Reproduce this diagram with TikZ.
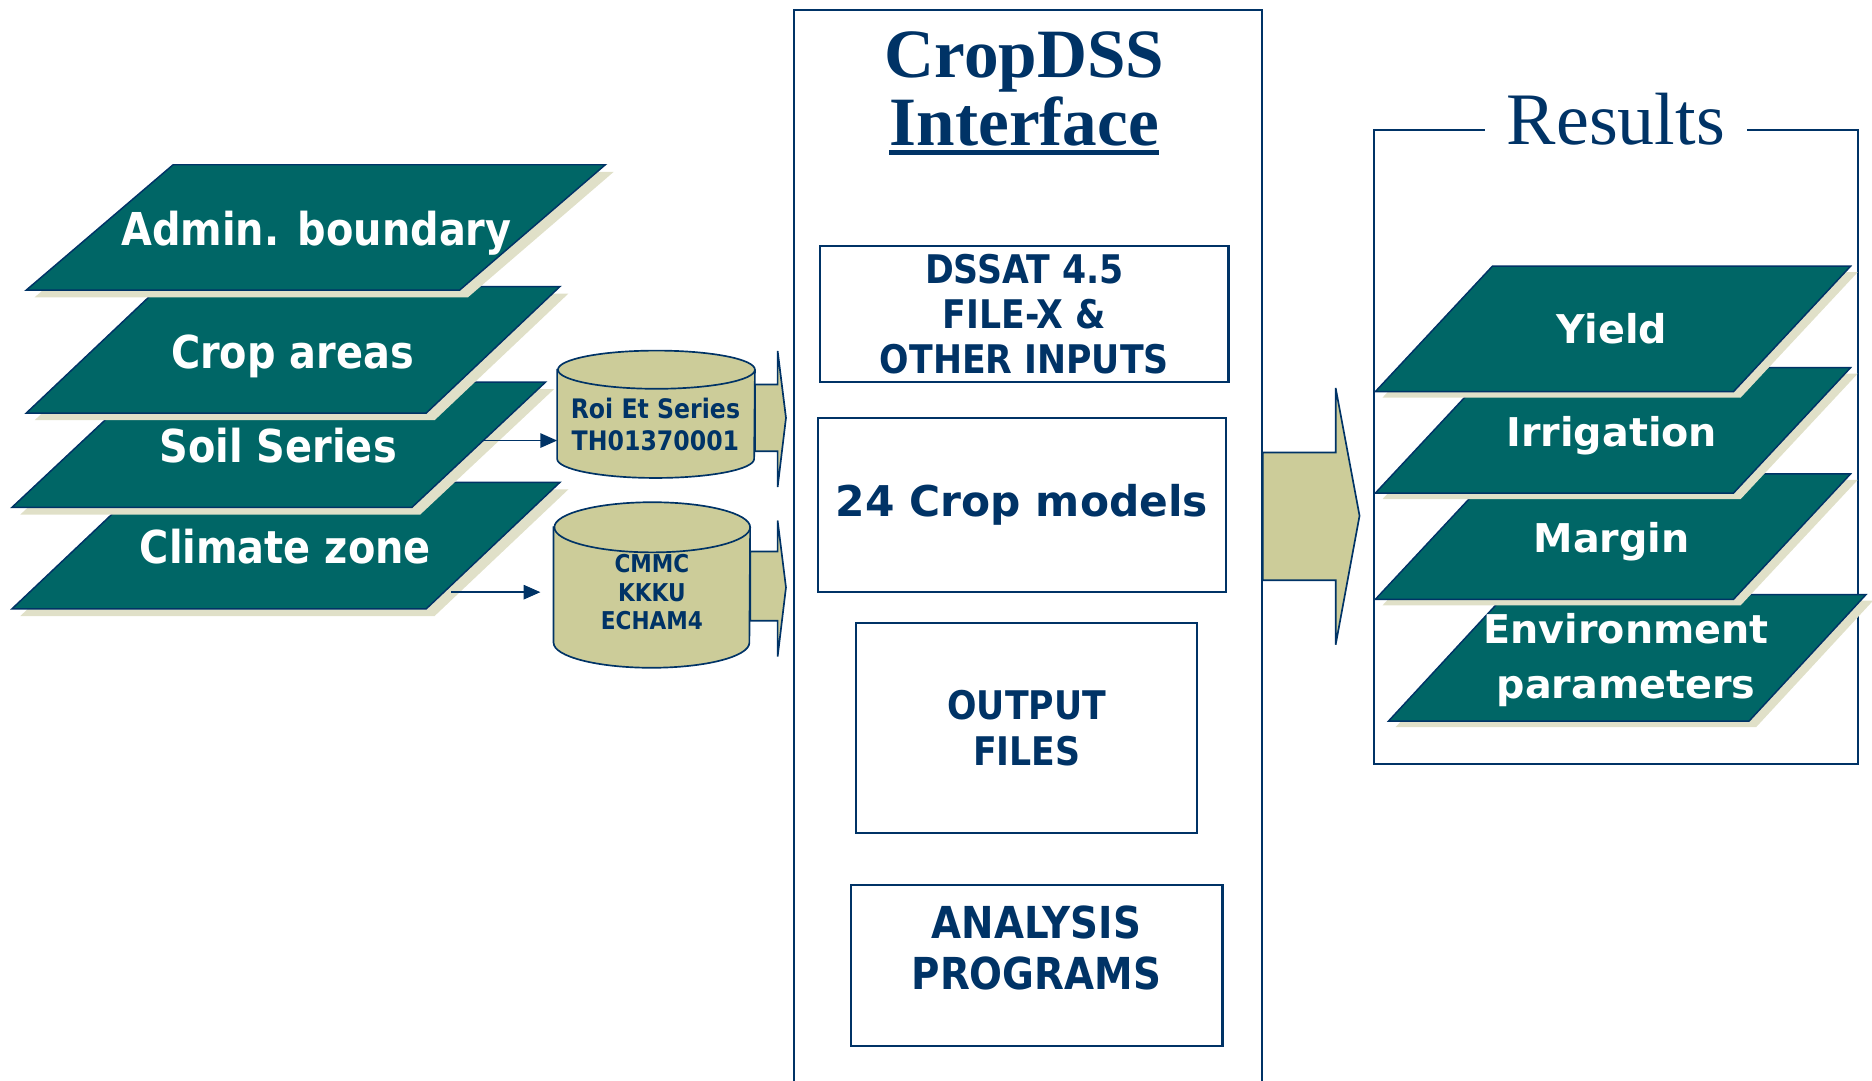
\documentclass[tikz,border=0pt]{standalone}
\usepackage{fontspec}
\setmainfont{DejaVu Sans}
\newfontfamily\layerfont[FakeStretch=0.88]{DejaVu Sans Bold}
\newfontfamily\widefont{DejaVu Sans Bold}
\newfontfamily\titlefont{Liberation Serif}
\usetikzlibrary{arrows.meta, shapes.geometric, positioning, calc, shadows}
\definecolor{navy}{RGB}{0,51,102}
\definecolor{layerteal}{RGB}{0,102,102}
\definecolor{khaki}{RGB}{204,204,153}
\definecolor{layershade}{RGB}{224,224,200}
\tikzset{
  inlayer/.style={
    draw=navy, line width=0.7pt, fill=layerteal,
    drop shadow={shadow xshift=0.14cm, shadow yshift=-0.12cm,
      fill=layershade, opacity=1}
  },
  outlayer/.style={
    draw=navy, line width=0.7pt, fill=layerteal,
    drop shadow={shadow xshift=0.12cm, shadow yshift=-0.1cm,
      fill=layershade, opacity=1}
  },
  intext/.style={
    anchor=base, inner sep=0, text=white,
    font=\layerfont\fontsize{21.6}{26}\selectfont
  },
  outtext/.style={
    anchor=base, inner sep=0, text=white, align=center,
    font=\widefont\fontsize{18.9}{26.2}\selectfont
  },
  box/.style={
    rectangle, draw=navy, line width=1pt, fill=white,
    align=center, text=navy, inner sep=0,
    font=\layerfont\fontsize{18.8}{21.3}\selectfont
  },
  dbspot/.style={rectangle, inner sep=0},
  dbshape/.style={draw=navy, line width=0.8pt, fill=khaki},
  dbtext/.style={
    align=center, text=navy, inner sep=0,
    font=\layerfont\fontsize{12.8}{15.4}\selectfont
  },
  panel/.style={rectangle, draw=navy, line width=0.9pt},
  cdsstitle/.style={
    anchor=base, inner sep=0, text=navy,
    font=\titlefont\bfseries\fontsize{33}{33}\selectfont
  },
  restitle/.style={
    anchor=base, fill=white, inner xsep=0.37cm, inner ysep=0.1cm,
    text=navy, font=\titlefont\fontsize{35.3}{35.3}\selectfont
  },
  fatarrow/.style={draw=navy, line width=0.8pt, fill=khaki, line join=miter},
  link/.style={-{Triangle[length=0.28cm, width=0.24cm]}, draw=navy, line width=0.8pt}
}
\begin{document}
\begin{tikzpicture}[x=0.02cm, y=-0.02cm]
  \useasboundingbox (0,0) rectangle (1568,905);

  % input layers, lowest first
  \draw[inlayer] (10,510) -- (122,404) -- (469,404) -- (357,510) -- cycle;
  \node[intext] (climate) at (239,472) {Climate zone};
  \draw[inlayer] (10,425) -- (122,320) -- (457,320) -- (345,425) -- cycle;
  \node[intext] (soil) at (233,387) {Soil Series};
  \draw[inlayer] (22,346) -- (134,240) -- (469,240) -- (357,346) -- cycle;
  \node[intext] (crop) at (245,309) {Crop areas};
  \draw[inlayer] (22,243) -- (145,138) -- (507,138) -- (385,243) -- cycle;
  \node[intext] (admin) at (265,206) {Admin. boundary};

  % databases
  \node[dbspot, minimum width=3.3cm, minimum height=2.12cm] (roiet) at (549.5,347) {};
  \draw[dbshape] ($(roiet.north west)+(0,16)$) -- ($(roiet.south west)+(0,-16)$)
    arc[start angle=180, end angle=0, x radius=82.5, y radius=16]
    -- ($(roiet.north east)+(0,16)$)
    arc[start angle=0, end angle=-180, x radius=82.5, y radius=16] -- cycle;
  \draw[dbshape, fill=none] ($(roiet.north east)+(0,16)$)
    arc[start angle=0, end angle=180, x radius=82.5, y radius=16];
  \node[dbtext] (roiettext) at (549,355.5) {Roi Et Series\\TH01370001};

  \node[dbspot, minimum width=3.28cm, minimum height=2.76cm] (cmmc) at (546,490) {};
  \draw[dbshape] ($(cmmc.north west)+(0,21)$) -- ($(cmmc.south west)+(0,-21)$)
    arc[start angle=180, end angle=0, x radius=82, y radius=21]
    -- ($(cmmc.north east)+(0,21)$)
    arc[start angle=0, end angle=-180, x radius=82, y radius=21] -- cycle;
  \draw[dbshape, fill=none] ($(cmmc.north east)+(0,21)$)
    arc[start angle=0, end angle=180, x radius=82, y radius=21];
  \node[dbtext, font=\layerfont\fontsize{11.7}{13.7}\selectfont]
    (cmmctext) at (546,496) {CMMC\\KKKU\\ECHAM4};

  \coordinate (soilout) at (405,369);
  \coordinate (climout) at (378,496);
  \draw[link] (soilout) -- (soilout -| roiet.west);
  \draw[link, shorten >=0.22cm] (climout) -- (climout -| cmmc.west);

  \draw[fatarrow, shift={(roiet.east)}] (0,-25) -- (19,-25) -- (19,-53)
    -- (26,3) -- (19,61) -- (19,31) -- (0,31) -- cycle;
  \draw[fatarrow, shift={(cmmc.east)}] (0,-28) -- (23,-28) -- (23,-54)
    -- (30,2) -- (23,60) -- (23,30) -- (0,30) -- cycle;

  % CropDSS interface
  \node[panel, minimum width=7.84cm, minimum height=18.4cm] (iface) at (861,468) {};
  \node[cdsstitle] (cropdss) at (858,65) {CropDSS};
  \node[cdsstitle] (interface) at (858,122) {Interface};
  \draw[navy, line width=0.08cm] ($(interface.base west)+(0,6)$)
    -- ($(interface.base east)+(0,6)$);

  \node[box, minimum width=6.84cm, minimum height=2.28cm]
    (dssat) at (858,263) {DSSAT 4.5\\FILE-X \&\\OTHER INPUTS};
  \node[box, minimum width=6.84cm, minimum height=2.92cm,
    font=\widefont\fontsize{20.2}{24}\selectfont]
    (models) at (856,423) {24 Crop models};
  \node[box, minimum width=5.72cm, minimum height=3.52cm,
    font=\layerfont\fontsize{18.8}{21.6}\selectfont]
    (output) at (860,610) {OUTPUT\\FILES};
  \node[box, minimum width=6.22cm, minimum height=2.7cm] (analysis) at (868.5,808.5) {};
  \node[align=center, text=navy, inner sep=0,
    font=\layerfont\fontsize{21}{23.9}\selectfont]
    (analysistext) at (868,794) {ANALYSIS\\PROGRAMS};

  \draw[fatarrow, shift={(iface.east |- models)}] (0,-44) -- (61,-44) -- (61,-98)
    -- (81,9) -- (61,117) -- (61,63) -- (0,63) -- cycle;

  % results
  \node[panel, minimum width=8.1cm, minimum height=10.62cm] (results) at (1353.5,374.5) {};
  \node[restitle] (resultstitle) at ($(results.north)+(0,13)$) {Results};

  \draw[outlayer] (1163,604) -- (1261,498) -- (1563,498) -- (1465,604) -- cycle;
  \node[outtext, anchor=center] (environment) at (1362,553) {Environment\\parameters};
  \draw[outlayer] (1152,502) -- (1250,397) -- (1550,397) -- (1452,502) -- cycle;
  \node[outtext] (margin) at (1350,463) {Margin};
  \draw[outlayer] (1152,413) -- (1250,308) -- (1550,308) -- (1452,413) -- cycle;
  \node[outtext] (irrigation) at (1350,374) {Irrigation};
  \draw[outlayer] (1152,328) -- (1250,223) -- (1550,223) -- (1452,328) -- cycle;
  \node[outtext] (yield) at (1350,288) {Yield};
\end{tikzpicture}
\end{document}
